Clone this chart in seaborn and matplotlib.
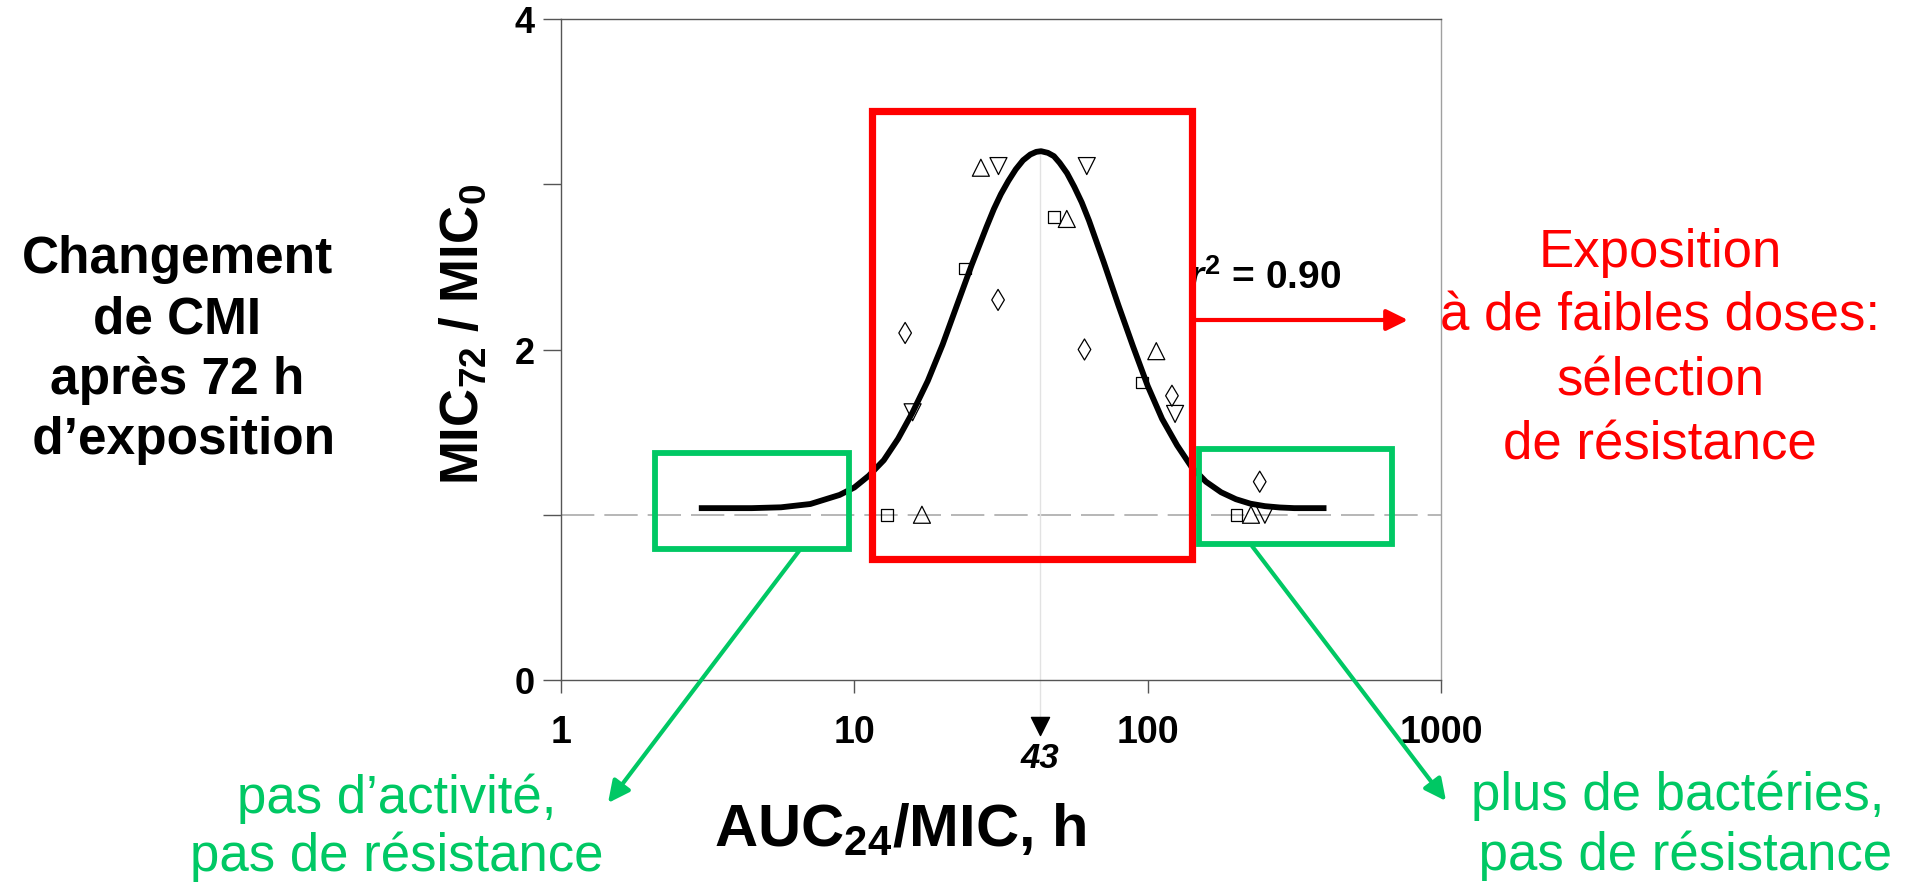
import matplotlib
matplotlib.use("Agg")
import matplotlib.pyplot as plt
import seaborn as sns
import pandas as pd
from matplotlib.patches import Rectangle, FancyArrowPatch
from matplotlib.ticker import NullLocator

# points (AUC24/MIC, MIC72/MIC0), one pair of lists per marker shape
tri_up_x = [27, 53, 107, 17, 225]
tri_up_y = [3.10, 2.79, 1.99, 1.00, 1.00]
tri_down_x = [31, 62, 124, 15.8, 251]
tri_down_y = [3.11, 3.11, 1.61, 1.62, 1.00]
square_x = [48, 23.8, 95.6, 12.9, 201]
square_y = [2.80, 2.49, 1.80, 1.00, 1.00]
diamond_x = [30.9, 14.9, 60.9, 121, 241]
diamond_y = [2.30, 2.10, 2.00, 1.72, 1.20]

# fitted curve
curve_x = [2.95, 3.55, 4.47, 5.62, 7.08, 8.91, 10.0, 11.2, 12.6, 14.1, 15.8, 17.8, 20.0,
           22.4, 25.1, 28.2, 29.9, 31.6, 33.5, 35.5, 37.6, 39.8, 41.7, 43.3, 45.7, 47.9,
           50.1, 53.1, 56.2, 59.6, 63.1, 70.8, 79.4, 89.1, 100, 112, 126, 141, 158, 178,
           200, 224, 251, 282, 316, 407]
curve_y = [1.04, 1.04, 1.04, 1.045, 1.065, 1.12, 1.165, 1.236, 1.33, 1.46, 1.62, 1.81, 2.03,
           2.27, 2.51, 2.74, 2.85, 2.94, 3.02, 3.09, 3.145, 3.18, 3.196, 3.20, 3.19, 3.17,
           3.13, 3.067, 2.985, 2.89, 2.78, 2.53, 2.27, 2.02, 1.78, 1.58, 1.42, 1.29, 1.20,
           1.136, 1.094, 1.067, 1.052, 1.044, 1.04, 1.04]

peak_x = 43
r2_text = "0.90"
x_ticks = [1, 10, 100, 1000]
y_ticks = [0, 1, 2, 3, 4]
y_tick_labels = ["0", "", "2", "", "4"]

sns.set_style("ticks")
plt.rcParams["font.family"] = ["Liberation Sans", "DejaVu Sans"]
plt.rcParams["text.color"] = "black"
plt.rcParams["axes.labelcolor"] = "black"
plt.rcParams["xtick.labelcolor"] = "black"
plt.rcParams["ytick.labelcolor"] = "black"
plt.rcParams["mathtext.fontset"] = "custom"
plt.rcParams["mathtext.rm"] = "Liberation Sans:bold"
plt.rcParams["mathtext.bf"] = "Liberation Sans:bold"
plt.rcParams["mathtext.it"] = "Liberation Sans:bold:italic"

W, H = 1907, 887
fig = plt.figure(figsize=(W / 100, H / 100), dpi=100)
fig.patch.set_facecolor("white")


def fx(x):
    return x / W


def fy(y):
    return 1 - y / H


ax = fig.add_axes([fx(561), fy(681), fx(1441) - fx(561), fy(20) - fy(681)])
ax.set_facecolor("white")

# reference lines
ax.axhline(1, color="#aaaaaa", lw=1.2, dashes=(20, 6), zorder=1)
ax.plot([peak_x, peak_x], [-0.25, 3.2], color="#e2e2e2", lw=1, zorder=1, clip_on=False)

sns.lineplot(x=curve_x, y=curve_y, sort=False, estimator=None, color="black", lw=4.2,
             ax=ax, zorder=3, solid_joinstyle="round", solid_capstyle="butt")

groups = [
    (tri_up_x, tri_up_y, "^", 150),
    (tri_down_x, tri_down_y, "v", 150),
    (square_x, square_y, "s", 70),
    (diamond_x, diamond_y, "d", 115),
]
for gx, gy, m, s in groups:
    df = pd.DataFrame({"x": gx, "y": gy})
    sns.scatterplot(data=df, x="x", y="y", marker=m, s=s, facecolor="none",
                    edgecolor="black", linewidth=0.9, ax=ax, zorder=4, legend=False)

ax.set_xscale("log")
ax.set_xlim(1, 1000)
ax.set_ylim(0, 4)
ax.set_xticks(x_ticks)
ax.set_xticklabels([str(t) for t in x_ticks])
ax.xaxis.set_minor_locator(NullLocator())
ax.set_yticks(y_ticks)
ax.set_yticklabels(y_tick_labels)
ax.tick_params(axis="x", direction="out", length=9.5, width=1, color="#555555", pad=15,
               labelsize=27)
ax.tick_params(axis="y", direction="out", length=13, width=1, color="#555555", pad=6,
               labelsize=26)
for lab in ax.get_xticklabels() + ax.get_yticklabels():
    lab.set_fontweight("bold")
for side in ["left", "bottom", "top"]:
    ax.spines[side].set_color("#555555")
    ax.spines[side].set_linewidth(1)
ax.spines["right"].set_color("#a0a0a0")
ax.spines["right"].set_linewidth(1)

# marker of the peak position below the axis
ax.scatter([peak_x], [-0.28], marker="v", s=170, color="black", clip_on=False, zorder=5)
ax.text(peak_x, -0.47, str(peak_x), ha="center", va="center", fontsize=25,
        fontweight="bold", fontstyle="italic")

ax.set_ylabel(r"MIC$_{\mathit{72}}$ / MIC$_{0}$", fontsize=38, fontweight="bold")
ax.yaxis.set_label_coords(-0.082, 0.525)
ax.set_xlabel(r"AUC$_{24}$/MIC, h", fontsize=43, fontweight="bold")
ax.xaxis.set_label_coords(0.385, -0.183)

fig.text(fx(1188), fy(278), r"$\mathit{r}^{2}$ = " + r2_text, fontsize=28,
         fontweight="bold", ha="left", va="center", zorder=3)

# annotation boxes
red = "#ff0000"
green = "#00c864"


def box(x0, y0, x1, y1, color, lw):
    fig.add_artist(Rectangle((fx(x0), fy(y1)), fx(x1) - fx(x0), fy(y0) - fy(y1),
                             transform=fig.transFigure, fill=False, edgecolor=color,
                             lw=lw, zorder=6, joinstyle="miter"))


def arrow(x0, y0, x1, y1, color, lw):
    fig.add_artist(FancyArrowPatch((fx(x0), fy(y0)), (fx(x1), fy(y1)),
                                   transform=fig.transFigure, color=color, lw=lw,
                                   arrowstyle="-|>,head_length=0.65,head_width=0.32",
                                   mutation_scale=20, shrinkA=0, shrinkB=0, zorder=6))


box(872, 112, 1192, 560, red, 5.2)
arrow(1195, 321, 1408, 321, red, 3)
box(655, 454, 849, 550, green, 4.2)
box(1199, 450, 1392, 545, green, 4.2)
arrow(799, 552, 608, 804, green, 3)
arrow(1252, 547, 1446, 802, green, 3)

fig.text(fx(177), fy(350), "Changement\nde CMI\naprès 72 h\n d’exposition",
         fontsize=37, fontweight="bold", ha="center", va="center", multialignment="center",
         linespacing=1.3)
fig.text(fx(1660), fy(349), "Exposition\nà de faibles doses:\nsélection\nde résistance",
         fontsize=38, color=red, ha="center", va="center", multialignment="center",
         linespacing=1.36)
fig.text(fx(397), fy(828), "pas d’activité,\npas de résistance", fontsize=38,
         color=green, ha="center", va="center", multialignment="center")
fig.text(fx(1678), fy(826), "plus de bactéries,\n pas de résistance", fontsize=38,
         color=green, ha="center", va="center", multialignment="center", linespacing=1.25)

fig.savefig("out.png", dpi=100, facecolor="white")
